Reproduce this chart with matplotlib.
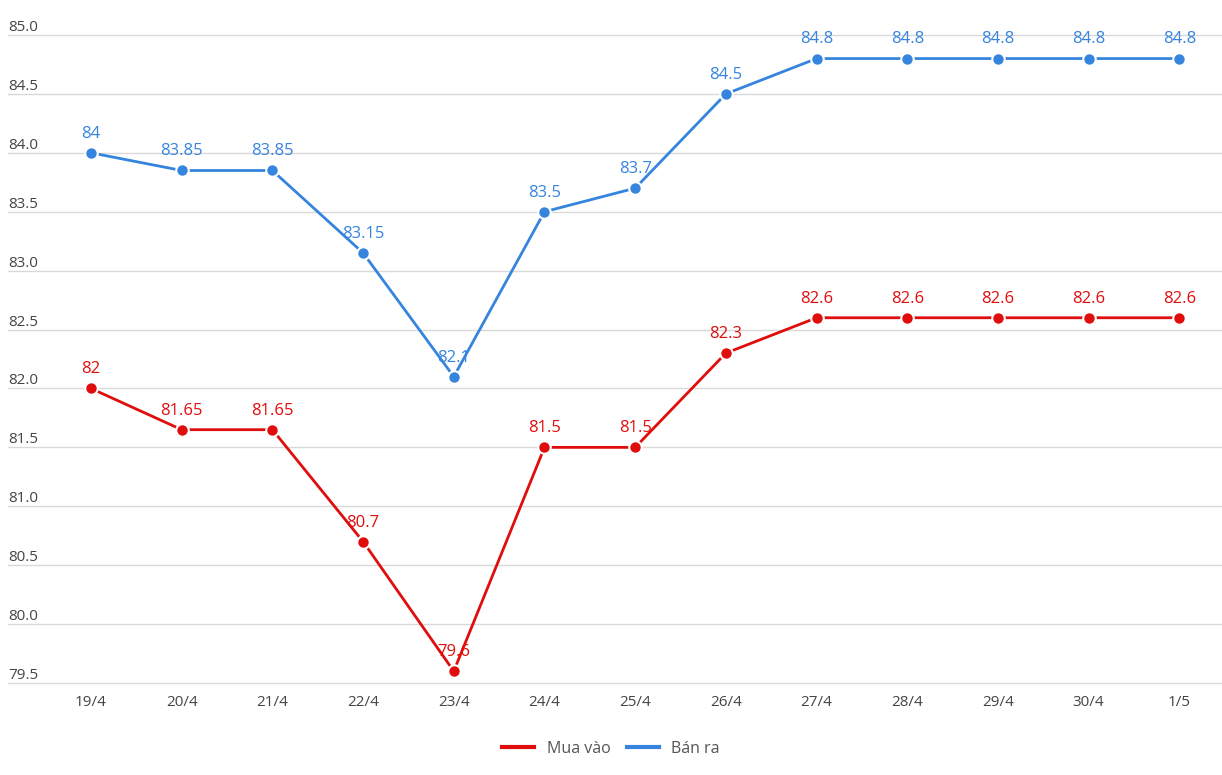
import matplotlib.pyplot as plt
from matplotlib.lines import Line2D
import matplotlib.transforms as mtransforms

plt.rcParams['font.family'] = ['Open Sans', 'DejaVu Sans']

days = ["19/4", "20/4", "21/4", "22/4", "23/4", "24/4", "25/4",
        "26/4", "27/4", "28/4", "29/4", "30/4", "1/5"]
mua_vao = [82, 81.65, 81.65, 80.7, 79.6, 81.5, 81.5, 82.3, 82.6, 82.6, 82.6, 82.6, 82.6]
ban_ra = [84, 83.85, 83.85, 83.15, 82.1, 83.5, 83.7, 84.5, 84.8, 84.8, 84.8, 84.8, 84.8]
yticks = [79.5, 80.0, 80.5, 81.0, 81.5, 82.0, 82.5, 83.0, 83.5, 84.0, 84.5, 85.0]

red = '#e00d0d'
blue = '#3584de'

fig = plt.figure(figsize=(12.22, 7.75), dpi=100)
ax = fig.add_axes([8/1222, (775-683)/775, (1222-8)/1222, 648/775])
x = list(range(len(days)))
ax.set_xlim(-0.915, 12.47)
ax.set_ylim(79.5, 85.0)

for v in yticks:
    ax.axhline(v, color='#d9d9d9', lw=1, zorder=0, clip_on=False)

for vals, col in [(mua_vao, red), (ban_ra, blue)]:
    ax.plot(x, vals, color=col, lw=2, marker='o', ms=9, mec='white', mew=1.5, zorder=3)
    for xi, v in zip(x, vals):
        ax.annotate(f"{v:g}", (xi, v), xytext=(0, 8), textcoords='offset points',
                    ha='center', va='bottom', color=col, fontsize=12, zorder=2)

ax.set_xticks([])
ax.set_yticks([])
for s in ax.spines.values():
    s.set_visible(False)

trans = mtransforms.blended_transform_factory(ax.transAxes, ax.transData)
for v in yticks:
    ax.text(0, v, f"{v:.1f}", transform=trans, ha='left', va='bottom',
            color='#444444', fontsize=11)

trans_x = mtransforms.blended_transform_factory(ax.transData, ax.transAxes)
for xi, d in zip(x, days):
    ax.annotate(d, (xi, 0), xycoords=trans_x, xytext=(0, -9), textcoords='offset points',
                ha='center', va='top', color='#444444', fontsize=11)

handles = [Line2D([], [], color=red, lw=3), Line2D([], [], color=blue, lw=3)]
fig.legend(handles, ["Mua vào", "Bán ra"], loc='center', bbox_to_anchor=(0.5, 1 - 749/775),
           ncol=2, frameon=False, fontsize=11.5, handlelength=2, columnspacing=1,
           labelcolor='#555555')

fig.savefig('out.png', dpi=100)
